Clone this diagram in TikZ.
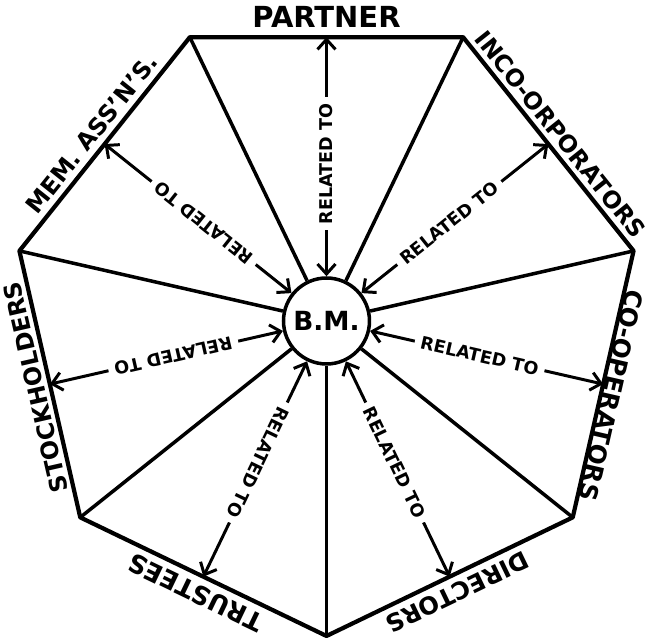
\documentclass[tikz,border=0pt]{standalone}
\usepackage{fontspec}
\setsansfont{DejaVu Sans}
\usetikzlibrary{arrows.meta}

\tikzset{
  hand/.style={font=\sffamily\bfseries},
  outlabel/.style={anchor=south, inner sep=0pt},
  reltext/.style={hand, font=\sffamily\bfseries\fontsize{10}{10}\selectfont, fill=white, inner xsep=3.5pt, inner ysep=1pt},
  relarrow/.style={line width=1.7pt, {Straight Barb[length=2mm,width=3.6mm]}-{Straight Barb[length=2mm,width=3.6mm]}},
  spoke/.style={line width=2pt},
  rim/.style={line width=2.4pt, line join=round},
}

\begin{document}
\begin{tikzpicture}[x=0.02cm, y=0.02cm]
  \useasboundingbox (-326.5,-317) rectangle (320.5,321);
  % corners and edge middles of the heptagon
  \foreach \i in {0,...,6} {
    \coordinate (v\i) at ({64.2857+51.4286*\i}:315);
    \coordinate (m\i) at ({90+51.4286*\i}:283.8);
  }
  \draw[rim] (v0) -- (v1) -- (v2) -- (v3) -- (v4) -- (v5) -- (v6) -- cycle;
  \node[circle, draw, line width=2pt, minimum size=1.72cm, inner sep=0pt, fill=white,
        hand, font=\sffamily\bfseries\fontsize{15}{15}\selectfont] (bm) at (0,0) {B.M.};
  \foreach \i in {0,...,6}
    \draw[spoke] (v\i) -- (bm);
  \foreach \i in {0,...,6}
    \draw[relarrow] (bm) -- node[reltext, sloped, allow upside down, pos=0.47] (rel\i) {RELATED TO} (m\i);
  % names round the rim
  \foreach \i/\txt/\sz/\d/\da in {0/PARTNER/16.5/293/0, 1/MEM. ASS'N'S./13.5/291/0, 2/STOCKHOLDERS/13.5/289/0,
                                  3/TRUSTEES/14.5/292/0, 4/DIRECTORS/13.8/292/0, 5/CO-OPERATORS/14/285/-1.8,
                                  6/INCO-ORPORATORS/13.4/290/0}
    \node[outlabel, rotate={51.4286*\i}, font=\sffamily\bfseries\fontsize{\sz}{\sz}\selectfont]
      (lab\i) at ({90+51.4286*\i+\da}:\d) {\txt};
\end{tikzpicture}
\end{document}
